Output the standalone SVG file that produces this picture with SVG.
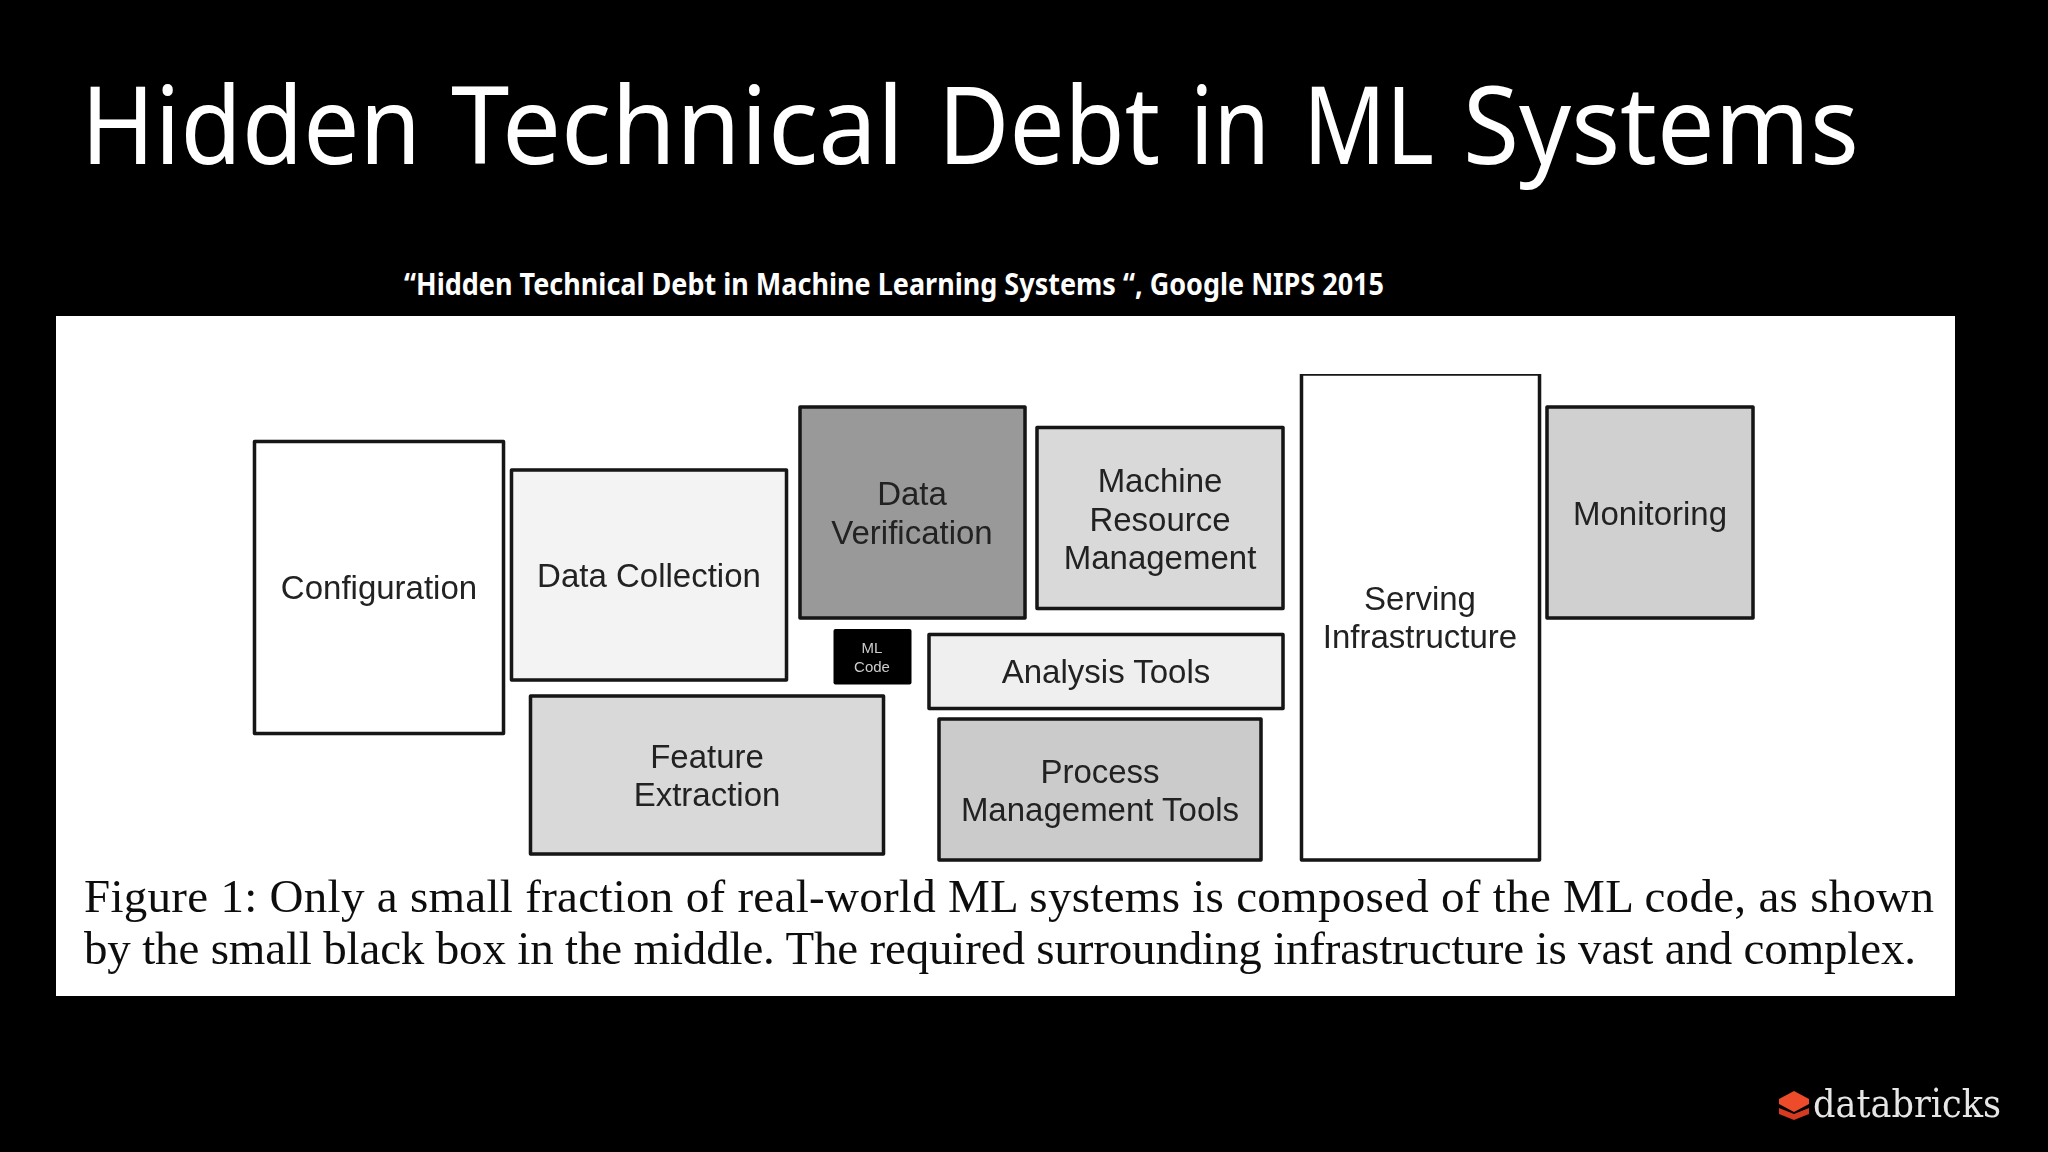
<svg xmlns="http://www.w3.org/2000/svg" width="2048" height="1152" viewBox="0 0 2048 1152">
<defs><filter id="soft" x="0" y="0" width="100%" height="100%"><feGaussianBlur stdDeviation="0.7"/></filter></defs>
<style>
.b{stroke:#141414;stroke-width:3.5;stroke-linejoin:round}
.l{font-family:"Liberation Sans",Arial,sans-serif;font-size:33px;fill:#222;text-anchor:middle}
.m{font-family:"Liberation Sans",Arial,sans-serif;font-size:15px;fill:#ccc;text-anchor:middle}
.c{font-family:"Liberation Serif",serif;font-size:47px;fill:#111}
.t{font-family:"Noto Sans",sans-serif;fill:#fff}
</style>
<rect width="2048" height="1152" fill="#000"/>
<text class="t" y="164" font-size="108" lengthAdjust="spacingAndGlyphs"><tspan x="81" textLength="340" lengthAdjust="spacingAndGlyphs">Hidden</tspan> <tspan x="451" textLength="453" lengthAdjust="spacingAndGlyphs">Technical</tspan> <tspan x="938" textLength="222" lengthAdjust="spacingAndGlyphs">Debt</tspan> <tspan x="1190" textLength="80" lengthAdjust="spacingAndGlyphs">in</tspan> <tspan x="1303" textLength="131" lengthAdjust="spacingAndGlyphs">ML</tspan> <tspan x="1463" textLength="396" lengthAdjust="spacingAndGlyphs">Systems</tspan></text>
<text class="t" x="404" y="295" font-size="30" font-weight="700" textLength="980" lengthAdjust="spacingAndGlyphs">“Hidden Technical Debt in Machine Learning Systems “, Google NIPS 2015</text>
<rect x="56" y="316" width="1899" height="680" fill="#fff"/>
<g filter="url(#soft)">
<g id="configuration"><rect class="b" x="254.500" y="441.500" width="249" height="292" fill="#fff"/><text class="l" x="379" y="599">Configuration</text></g>
<g id="data-collection"><rect class="b" x="511.500" y="470" width="275" height="210" fill="#f3f3f3"/><text class="l" x="649" y="587">Data Collection</text></g>
<g id="data-verification"><rect class="b" x="800" y="407" width="225" height="211" fill="#999"/><text class="l" x="912" y="505">Data</text><text class="l" x="912" y="544">Verification</text></g>
<g id="machine-resource"><rect class="b" x="1037" y="427.500" width="246" height="181" fill="#d9d9d9"/><text class="l" x="1160" y="492">Machine</text><text class="l" x="1160" y="531">Resource</text><text class="l" x="1160" y="569">Management</text></g>
<g id="serving"><rect class="b" x="1301.500" y="374" width="238" height="486" fill="#fff"/><text class="l" x="1420" y="610">Serving</text><text class="l" x="1420" y="648">Infrastructure</text></g>
<g id="monitoring"><rect class="b" x="1547" y="407" width="206" height="211" fill="#d0d0d0"/><text class="l" x="1650" y="525">Monitoring</text></g>
<g id="ml-code"><rect x="833.500" y="629" width="78" height="55.500" rx="2" fill="#000"/><text class="m" x="872" y="653">ML</text><text class="m" x="872" y="672">Code</text></g>
<g id="analysis"><rect class="b" x="929" y="634.500" width="354" height="74" fill="#efefef"/><text class="l" x="1106" y="683">Analysis Tools</text></g>
<g id="feature"><rect class="b" x="530.500" y="696" width="353" height="158" fill="#d9d9d9"/><text class="l" x="707" y="768">Feature</text><text class="l" x="707" y="806">Extraction</text></g>
<g id="process"><rect class="b" x="939" y="719" width="322" height="141" fill="#cbcbcb"/><text class="l" x="1100" y="783">Process</text><text class="l" x="1100" y="821">Management Tools</text></g>
<g id="connectors"/>
<text class="c" x="84" y="912" textLength="1850" lengthAdjust="spacing">Figure 1:  Only a small fraction of real-world ML systems is composed of the ML code, as shown</text>
<text class="c" x="84" y="964" textLength="1832" lengthAdjust="spacing">by the small black box in the middle. The required surrounding infrastructure is vast and complex.</text>
</g>
<g filter="url(#soft)">
<path d="M1779 1108v6l15 6 15-6v-6l-15 6z" fill="#d63a24"/>
<path d="M1779 1099l15-8 15 8v5l-15 8-15-8z" fill="#ee4c2c"/>
<text x="1813" y="1117" font-family="DejaVu Serif,serif" font-size="40" fill="#e6e6e6" textLength="188" lengthAdjust="spacingAndGlyphs">databricks</text>
</g>
</svg>
